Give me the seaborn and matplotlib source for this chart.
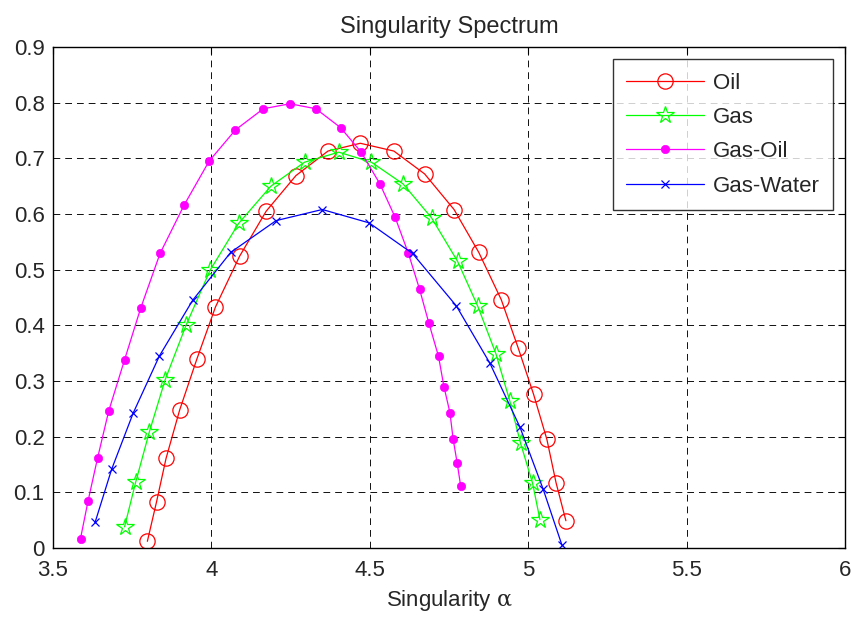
import numpy as np
import pandas as pd
import matplotlib
matplotlib.use("Agg")
import matplotlib.pyplot as plt
import seaborn as sns

# singularity spectrum values
oil_alpha = [3.798, 3.827, 3.857, 3.900, 3.954, 4.013, 4.089, 4.173, 4.267, 4.368, 4.470,
             4.576, 4.673, 4.766, 4.844, 4.915, 4.968, 5.017, 5.059, 5.088, 5.119]
oil_f = [0.012, 0.083, 0.161, 0.248, 0.339, 0.433, 0.524, 0.605, 0.669, 0.713, 0.727,
         0.713, 0.672, 0.608, 0.531, 0.446, 0.360, 0.276, 0.195, 0.117, 0.049]

gas_alpha = [3.726, 3.761, 3.804, 3.854, 3.920, 3.996, 4.086, 4.188, 4.294, 4.402,
             4.505, 4.605, 4.695, 4.777, 4.841, 4.898, 4.942, 4.976, 5.014, 5.037]
gas_f = [0.038, 0.118, 0.208, 0.302, 0.400, 0.499, 0.583, 0.650, 0.693, 0.711,
         0.693, 0.654, 0.593, 0.515, 0.434, 0.349, 0.264, 0.188, 0.116, 0.051]

gasoil_alpha = [3.587, 3.611, 3.641, 3.676, 3.726, 3.777, 3.838, 3.914, 3.993, 4.076,
                4.164, 4.248, 4.330, 4.408, 4.473, 4.532, 4.580, 4.622, 4.657, 4.686,
                4.717, 4.734, 4.753, 4.763, 4.776, 4.787]
gasoil_f = [0.017, 0.085, 0.162, 0.246, 0.338, 0.431, 0.529, 0.616, 0.695, 0.751,
            0.789, 0.798, 0.789, 0.755, 0.711, 0.654, 0.594, 0.529, 0.465, 0.405,
            0.344, 0.290, 0.243, 0.196, 0.152, 0.111]

gaswater_alpha = [3.633, 3.685, 3.753, 3.836, 3.941, 4.061, 4.204, 4.350, 4.498,
                  4.635, 4.773, 4.879, 4.974, 5.047, 5.106]
gaswater_f = [0.046, 0.141, 0.242, 0.345, 0.445, 0.531, 0.588, 0.608, 0.584,
              0.529, 0.435, 0.332, 0.217, 0.106, 0.006]

SERIES = [
    ("Oil", oil_alpha, oil_f, "#ff0000", dict(marker="o", ms=11, mfc="none", mew=0.9)),
    ("Gas", gas_alpha, gas_f, "#00ff00", dict(marker="*", ms=13, mfc="none", mew=0.9)),
    ("Gas-Oil", gasoil_alpha, gasoil_f, "#ff00ff", dict(marker="o", ms=6, mfc="#ff00ff", mew=0.5)),
    ("Gas-Water", gaswater_alpha, gaswater_f, "#0000ff", dict(marker="x", ms=5.5, mew=0.9)),
]

sns.set_style("white")
plt.rcParams["font.family"] = ["Liberation Sans", "DejaVu Sans"]
plt.rcParams["mathtext.fontset"] = "dejavuserif"

fig = plt.figure(figsize=(8.54, 6.22), dpi=100)
ax = fig.add_axes([0.062, 0.119, 0.9275, 0.8055])

for name, a, f, color, mk in SERIES:
    df = pd.DataFrame({"alpha": a, "f": f})
    sns.lineplot(data=df, x="alpha", y="f", sort=False, color=color, lw=0.9,
                 mec=color, label=name, ax=ax, **mk)

ax.set_xlim(3.5, 6)
ax.set_ylim(0, 0.9)
ax.set_xticks(np.arange(3.5, 6.01, 0.5))
ax.set_xticklabels(["3.5", "4", "4.5", "5", "5.5", "6"])
ax.set_yticks(np.arange(0, 0.91, 0.1))
ax.set_yticklabels(["0"] + [f"{v:.1f}" for v in np.arange(0.1, 0.91, 0.1)])
ax.grid(True, color="black", linestyle=(0, (7.5, 5.5)), lw=0.65)
ax.tick_params(direction="in", length=5, top=True, right=True, labelsize=16, color="black")
ax.tick_params(axis="x", pad=9)
ax.tick_params(axis="y", pad=6)
for sp in ax.spines.values():
    sp.set_color("black")
    sp.set_linewidth(1.0)

ax.set_title("Singularity Spectrum", fontsize=17, pad=10)
ax.set_xlabel(r"Singularity $\mathrm{\alpha}$", fontsize=16, labelpad=5)
ax.set_ylabel("")

leg = ax.legend(loc="upper right", fontsize=16, frameon=True, fancybox=False,
                edgecolor="black", borderaxespad=0.55, handlelength=3.5,
                handletextpad=0.4, labelspacing=0.6, borderpad=0.6)
leg.get_frame().set_linewidth(1.0)

fig.savefig("out.png", dpi=100)
